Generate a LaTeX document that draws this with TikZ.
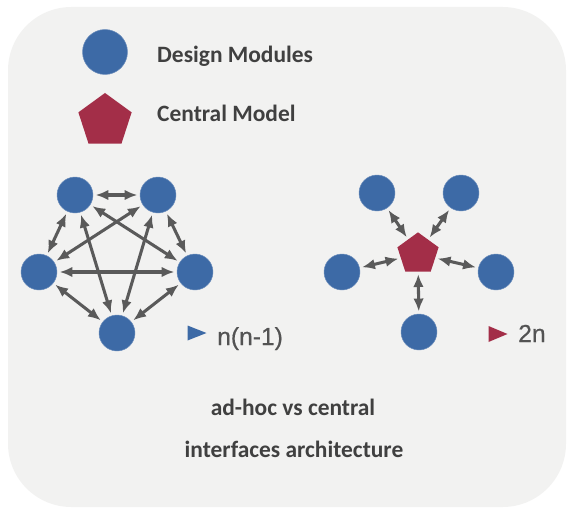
\documentclass[tikz,border=0pt]{standalone}
\usepackage{fontspec}
\setmainfont{Carlito}
\newfontface\countfont[FakeBold=0.6]{Liberation Sans}
\usetikzlibrary{arrows.meta, positioning, shapes.geometric}

\definecolor{modblue}{HTML}{3D6AA6}
\definecolor{modelred}{HTML}{A32E48}
\definecolor{panelgray}{HTML}{F2F2F1}
\definecolor{linkgray}{HTML}{5A5A5A}
\definecolor{textgray}{HTML}{404040}

\begin{document}
\begin{tikzpicture}[
                    x=0.03cm,
                    y=-0.03cm,
                    >={Latex[length=11pt,width=9pt]},
                    node distance=1em
                ]
                \tikzset{
                    module/.style = {circle, fill=modblue, draw=modblue!75!white, line width=0.4pt, inner sep=0pt, minimum size=1.08cm},
                    model/.style = {regular polygon, regular polygon sides=5, fill=modelred, inner sep=0pt, minimum size=1.3cm},
                    link/.style = {<->, draw=linkgray, line width=2.6pt, shorten <=2pt, shorten >=2pt},
                    legtext/.style = {text=textgray, font=\bfseries\fontsize{20}{24}\selectfont, inner sep=0pt},
                    count/.style = {text=textgray!90!white, font=\countfont\fontsize{21}{25}\selectfont, inner sep=0pt}
                }

                \useasboundingbox (0,0) rectangle (567,509);

                % Panel
                \fill[panelgray, rounded corners=1.9cm] (8,7) rectangle (566,507);

                % Legend
                \node[module, minimum size=1.35cm] (legMod) at (105,52) {};
                \node[model, minimum size=1.68cm] (legModel) at (105,121) {};
                \node[legtext, anchor=base west] (legModText) at (157,63) {Design Modules};
                \node[legtext, anchor=base west] (legModelText) at (157,122) {Central Model};

                % Ad-hoc: every module linked to every other one
                \node[module] (a1) at (75,195) {};
                \node[module] (a2) at (158,195) {};
                \node[module] (a3) at (195,272) {};
                \node[module] (a4) at (117,333) {};
                \node[module] (a5) at (39,272) {};
                \foreach \i/\j in {1/2,1/3,1/4,1/5,2/3,2/4,2/5,3/4,3/5,4/5}
                    \draw[link] (a\i) -- (a\j);

                % Central: modules linked to the model only
                \node[model] (cm) at (418,254) {};
                \node[module] (c1) at (377,193) {};
                \node[module] (c2) at (461,193) {};
                \node[module] (c3) at (496,272) {};
                \node[module] (c4) at (419,332) {};
                \node[module] (c5) at (342,272) {};
                \foreach \i in {1,...,5}
                    \draw[link] (cm) -- (c\i);

                % Interface counts
                \coordinate (nTri) at (197,333);
                \fill[modblue] (nTri) ++(-9.5,-7.5) -- ++(19,7.5) -- ++(-19,7.5) -- cycle;
                \node[count, anchor=base west] (nLabel) at (217,345) {n(n-1)};

                \coordinate (twoTri) at (498,334);
                \fill[modelred] (twoTri) ++(-9.5,-8) -- ++(19,8) -- ++(-19,8) -- cycle;
                \node[count, anchor=base west] (twoLabel) at (518,342) {2n};

                % Caption
                \node[legtext, anchor=base] (capTop) at (293,415) {ad-hoc vs central};
                \node[legtext, anchor=base] (capBottom) at (294,457) {interfaces architecture};

            \end{tikzpicture}
\end{document}
